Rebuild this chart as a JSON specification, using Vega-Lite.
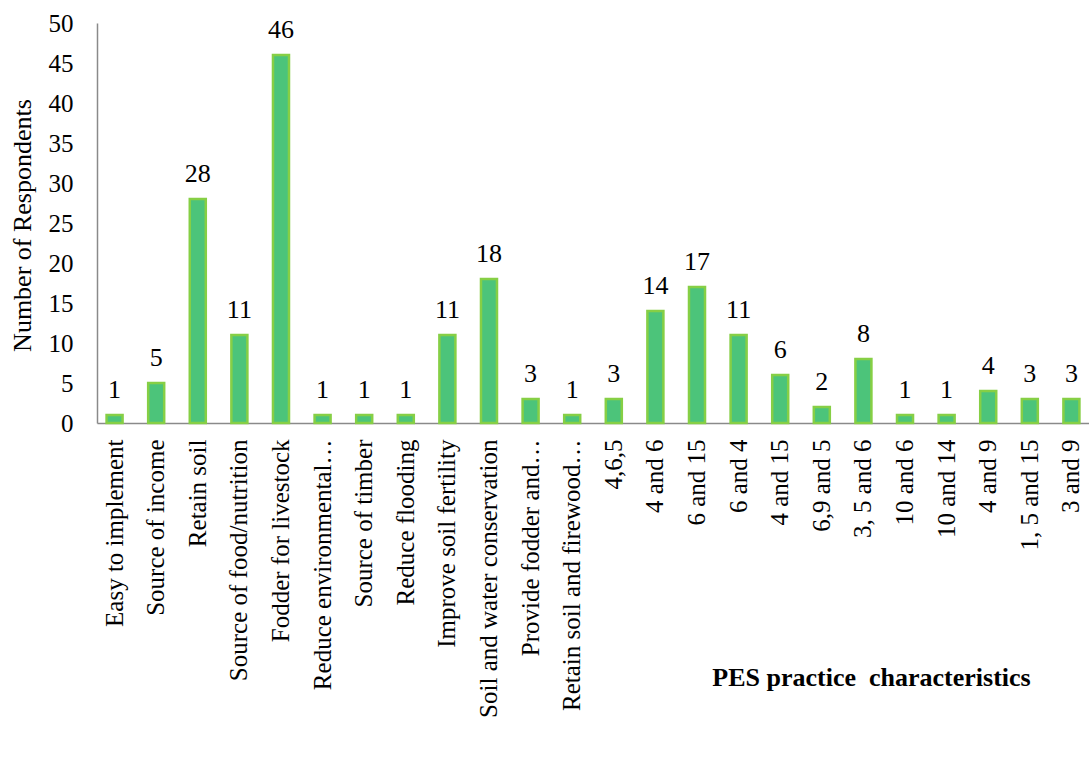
{
  "$schema": "https://vega.github.io/schema/vega-lite/v6.json",
  "width": 992,
  "height": 400,
  "autosize": "none",
  "padding": {"left": 97, "top": 23, "right": 0, "bottom": 351},
  "background": "white",
  "config": {
    "view": {"stroke": null},
    "font": "Liberation Serif",
    "axis": {"labelFont": "Liberation Serif", "titleFont": "Liberation Serif", "labelColor": "#000", "titleColor": "#000", "domainColor": "#8a8a8a", "domainWidth": 1.5, "grid": false, "ticks": false, "tickSize": 0}
  },
  "data": {
    "values": [
      {"label": "Easy to implement", "n": 1},
      {"label": "Source of income", "n": 5},
      {"label": "Retain soil", "n": 28},
      {"label": "Source of food/nutrition", "n": 11},
      {"label": "Fodder for livestock", "n": 46},
      {"label": "Reduce environmental…", "n": 1},
      {"label": "Source of timber", "n": 1},
      {"label": "Reduce flooding", "n": 1},
      {"label": "Improve soil fertility", "n": 11},
      {"label": "Soil and water conservation", "n": 18},
      {"label": "Provide fodder and…", "n": 3},
      {"label": "Retain soil and firewood…", "n": 1},
      {"label": "4,6,5", "n": 3},
      {"label": "4 and 6", "n": 14},
      {"label": "6 and 15", "n": 17},
      {"label": "6 and 4", "n": 11},
      {"label": "4 and 15", "n": 6},
      {"label": "6,9 and 5", "n": 2},
      {"label": "3, 5 and 6", "n": 8},
      {"label": "10 and 6", "n": 1},
      {"label": "10 and 14", "n": 1},
      {"label": "4 and 9", "n": 4},
      {"label": "1, 5 and 15", "n": 3},
      {"label": "3 and 9", "n": 3}
    ]
  },
  "encoding": {
    "x": {
      "field": "label", "type": "nominal", "sort": null,
      "scale": {"paddingInner": 0.615, "paddingOuter": 0.23},
      "axis": {
        "title": "PES practice\u00a0\u00a0characteristics",
        "titleFontWeight": "bold", "titleFontSize": 26,
        "titleX": 774, "titleY": 254, "titleBaseline": "middle", "titleAlign": "center",
        "labelAngle": -90, "labelAlign": "right", "labelBaseline": "middle",
        "labelFontSize": 25, "labelPadding": 16, "labelLimit": 400
      }
    },
    "y": {
      "field": "n", "type": "quantitative",
      "scale": {"domain": [0, 50], "nice": false},
      "axis": {
        "title": "Number of Respondents", "titleFontSize": 26, "titleFontWeight": "normal",
        "titleX": -75, "titleY": 202, "titleAngle": -90, "titleBaseline": "middle", "titleAlign": "center",
        "values": [0, 5, 10, 15, 20, 25, 30, 35, 40, 45, 50],
        "labelFontSize": 25, "labelPadding": 24
      }
    }
  },
  "layer": [
    {
      "mark": {"type": "bar", "fill": "#4cc47a", "stroke": "#86cf45", "strokeWidth": 2.5}
    },
    {
      "mark": {"type": "text", "baseline": "alphabetic", "dy": -17, "fontSize": 26, "color": "#000", "font": "Liberation Serif"},
      "encoding": {"text": {"field": "n", "type": "quantitative"}}
    }
  ]
}
